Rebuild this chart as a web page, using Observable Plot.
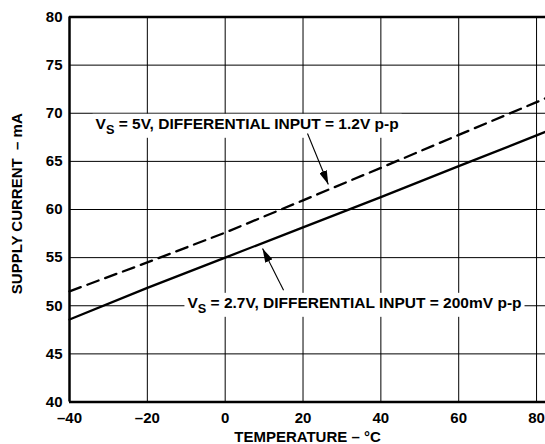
<!DOCTYPE html>
<html><head><meta charset="utf-8">
<script src="https://cdn.jsdelivr.net/npm/d3@7"></script>
<script src="https://cdn.jsdelivr.net/npm/@observablehq/plot@0.6"></script>
<style>html,body{margin:0;padding:0;background:#fff}</style>
</head><body><div id="chart"></div>
<script>
// Data
const temperature = [-40, -20, 0, 20, 40, 60, 80, 82.3];
const current5V = [51.5, 54.5, 57.6, 60.95, 64.33, 67.75, 71.15, 71.55];
const current27V = [48.57, 51.86, 55.0, 58.15, 61.28, 64.5, 67.7, 68.07];
const xTicks = [-40, -20, 0, 20, 40, 60, 80];
const yTicks = [40, 45, 50, 55, 60, 65, 70, 75, 80];
const xLabel = "TEMPERATURE – °C";
const yLabel = "SUPPLY CURRENT\u00a0 – mA";
const annotationText = ["VS = 5V, DIFFERENTIAL INPUT = 1.2V p-p", "VS = 2.7V, DIFFERENTIAL INPUT = 200mV p-p"];
const annotationX = [-33.3, -9.7];
const annotationY = [68.9, 50.3];
const arrowFromX = [21.15, 15.0];
const arrowFromY = [67.9, 51.6];
const arrowToX = [26.5, 9.6];
const arrowToY = [62.6, 55.95];

const series5V = temperature.map((t, i) => ({t, c: current5V[i]}));
const series27V = temperature.map((t, i) => ({t, c: current27V[i]}));
const annotations = annotationText.map((text, i) => ({text, x: annotationX[i], y: annotationY[i]}));
const arrows = arrowFromX.map((x1, i) => ({x1, y1: arrowFromY[i], x2: arrowToX[i], y2: arrowToY[i]}));

const font = "'Liberation Sans', Arial, Helvetica, sans-serif";

const svg = Plot.plot({
  width: 545,
  height: 444,
  marginLeft: 69,
  marginRight: 0,
  marginTop: 16.5,
  marginBottom: 42.5,
  style: {fontFamily: font, fontSize: "15px", fontWeight: "bold", background: "white", color: "black"},
  x: {domain: [-40, 82.3], ticks: xTicks, tickSize: 0, tickPadding: 10, label: null,
      tickFormat: d => d < 0 ? "\u2013" + Math.abs(d) : String(d)},
  y: {domain: [40, 80], ticks: yTicks, tickSize: 0, tickPadding: 7, label: null},
  marks: [
    Plot.ruleY(yTicks, {stroke: "black", strokeWidth: 1}),
    Plot.ruleX(xTicks, {stroke: "black", strokeWidth: 1}),
    Plot.ruleY([40, 80], {stroke: "black", strokeWidth: 2.5}),
    Plot.ruleX([-40], {stroke: "black", strokeWidth: 2.5}),
    Plot.line(series5V, {x: "t", y: "c", stroke: "black", strokeWidth: 2.3, strokeDasharray: "12,7"}),
    Plot.line(series27V, {x: "t", y: "c", stroke: "black", strokeWidth: 2.3}),
    Plot.text(annotations, {x: "x", y: "y", text: "text", textAnchor: "start", lineAnchor: "middle",
      fontSize: 15.5, fontWeight: "bold", fill: "black"}),
    Plot.link(arrows, {x1: "x1", y1: "y1", x2: "x2", y2: "y2", stroke: "black", strokeWidth: 1.1}),
    Plot.text([{label: xLabel}], {frameAnchor: "bottom", text: "label", dy: 35, textAnchor: "middle", lineAnchor: "middle", fontSize: 15, fontWeight: "bold"}),
    Plot.text([{label: yLabel, y: 60.6}], {frameAnchor: "left", y: "y", text: "label", dx: -52, rotate: -90, textAnchor: "middle", lineAnchor: "middle", fontSize: 15, fontWeight: "bold"})
  ]
});

document.getElementById("chart").appendChild(svg);

// subscripts + white boxes behind annotations
d3.select(svg).selectAll("text").filter(function() {
  return annotationText.includes(this.textContent);
}).each(function() {
  const t = d3.select(this);
  const s = t.text();
  t.text("");
  t.append("tspan").text(s.slice(0, 1));
  t.append("tspan").attr("font-size", "0.82em").attr("dy", 5).text(s.slice(1, 2));
  t.append("tspan").attr("dy", -5).text(s.slice(2));
  const b = this.getBBox();
  const pad = 3;
  d3.select(this.parentNode).insert("rect", () => this)
    .attr("transform", this.getAttribute("transform"))
    .attr("x", b.x - pad).attr("y", b.y - 1).attr("width", b.width + 2 * pad).attr("height", b.height + 2)
    .attr("fill", "white").attr("stroke", "none");
});

// filled arrowheads
const defs = d3.select(svg).insert("defs", ":first-child");
defs.append("marker").attr("id", "ahead").attr("viewBox", "0 0 14 8").attr("refX", 14).attr("refY", 4)
  .attr("markerWidth", 14).attr("markerHeight", 8).attr("markerUnits", "userSpaceOnUse").attr("orient", "auto")
  .append("path").attr("d", "M0,0L14,4L0,8Z").attr("fill", "black").attr("stroke", "none");
d3.select(svg).selectAll('g[aria-label="link"] path').attr("marker-end", "url(#ahead)");
</script>
</body></html>
